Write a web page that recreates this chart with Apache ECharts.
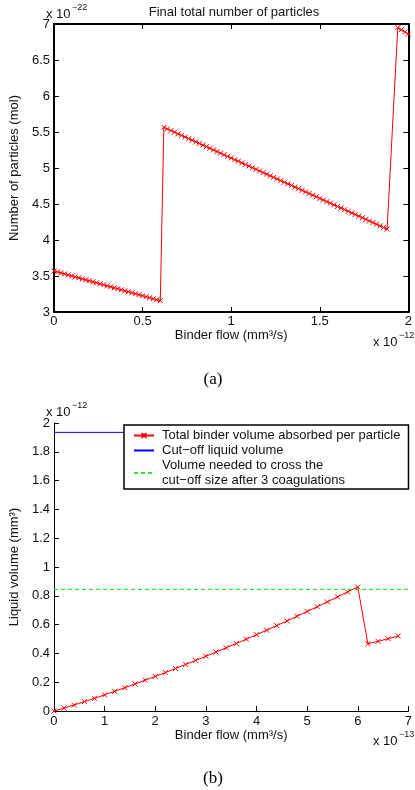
<!DOCTYPE html>
<html>
<head>
<meta charset="utf-8">
<script src="https://cdn.jsdelivr.net/npm/echarts@6/dist/echarts.min.js"></script>
<style>
  html, body { margin: 0; padding: 0; background: #fff; }
  #chart { width: 415px; height: 790px; }
</style>
</head>
<body>
<div id="chart"></div>
<script>
// (a) Final total number of particles vs binder flow
// x in units of 1e-12 mm^3/s, y in units of 1e-22 mol
const flowA = [
  0.00, 0.02, 0.04, 0.06, 0.08, 0.10, 0.12, 0.14, 0.16, 0.18,
  0.20, 0.22, 0.24, 0.26, 0.28, 0.30, 0.32, 0.34, 0.36, 0.38,
  0.40, 0.42, 0.44, 0.46, 0.48, 0.50, 0.52, 0.54, 0.56, 0.58, 0.60,
  0.62, 0.64, 0.66, 0.68, 0.70, 0.72, 0.74, 0.76, 0.78, 0.80,
  0.82, 0.84, 0.86, 0.88, 0.90, 0.92, 0.94, 0.96, 0.98, 1.00,
  1.02, 1.04, 1.06, 1.08, 1.10, 1.12, 1.14, 1.16, 1.18, 1.20,
  1.22, 1.24, 1.26, 1.28, 1.30, 1.32, 1.34, 1.36, 1.38, 1.40,
  1.42, 1.44, 1.46, 1.48, 1.50, 1.52, 1.54, 1.56, 1.58, 1.60,
  1.62, 1.64, 1.66, 1.68, 1.70, 1.72, 1.74, 1.76, 1.78, 1.80,
  1.82, 1.84, 1.86, 1.88,
  1.94, 1.96, 1.98, 2.00
];
const particlesA = [
  3.570, 3.556, 3.543, 3.529, 3.515, 3.501, 3.487, 3.474, 3.460, 3.446,
  3.433, 3.419, 3.405, 3.392, 3.378, 3.364, 3.350, 3.336, 3.323, 3.309,
  3.295, 3.282, 3.268, 3.254, 3.240, 3.226, 3.213, 3.199, 3.185, 3.171, 3.157,
  5.565, 5.543, 5.520, 5.498, 5.475, 5.453, 5.430, 5.408, 5.386, 5.363,
  5.341, 5.318, 5.296, 5.273, 5.251, 5.229, 5.206, 5.184, 5.161, 5.139,
  5.116, 5.094, 5.072, 5.049, 5.027, 5.004, 4.982, 4.959, 4.937, 4.915,
  4.892, 4.870, 4.847, 4.825, 4.802, 4.780, 4.758, 4.735, 4.713, 4.690,
  4.668, 4.645, 4.623, 4.601, 4.578, 4.556, 4.533, 4.511, 4.488, 4.466,
  4.444, 4.421, 4.399, 4.376, 4.354, 4.331, 4.309, 4.287, 4.264, 4.242,
  4.219, 4.197, 4.174, 4.152,
  6.950, 6.920, 6.890, 6.860
];

// (b) Liquid volume vs binder flow
// x in units of 1e-13 mm^3/s, y in units of 1e-12 mm^3
const flowB = [
  0.0, 0.2, 0.4, 0.6, 0.8, 1.0, 1.2, 1.4, 1.6, 1.8,
  2.0, 2.2, 2.4, 2.6, 2.8, 3.0, 3.2, 3.4, 3.6, 3.8,
  4.0, 4.2, 4.4, 4.6, 4.8, 5.0, 5.2, 5.4, 5.6, 5.8,
  6.0, 6.2, 6.4, 6.6, 6.8
];
const binderVolume = [
  0.000, 0.020, 0.042, 0.065, 0.088, 0.112, 0.137, 0.162, 0.188, 0.214,
  0.240, 0.267, 0.295, 0.323, 0.351, 0.380, 0.409, 0.439, 0.469, 0.499,
  0.530, 0.561, 0.593, 0.625, 0.658, 0.691, 0.724, 0.758, 0.792, 0.827,
  0.861, 0.467, 0.484, 0.502, 0.521
];
const lineSpanB = [0, 7];
const cutoffVolume = 1.935;
const neededVolume = 0.845;

const legendNames = [
  'Total binder volume absorbed per particle',
  'Cut\u2212off liquid volume',
  'Volume needed to cross the\ncut\u2212off size after 3 coagulations'
];

const FONT = '"Liberation Sans", Arial, Helvetica, sans-serif';
const SERIF = '"Liberation Serif", "Times New Roman", serif';
const TXT = '#111';
const FS = 13;
const crossSymbol = 'path://M0,0L10,10M10,0L0,10';
const RED = '#ff0000', BLUE = '#0000ff', GREEN = '#22ee22';

function pairs(xs, ys) {
  return xs.map((x, i) => [x, ys[i]]);
}

const labelStyle = { color: TXT, fontSize: FS, fontFamily: FONT };

function axisBase(extra) {
  return Object.assign({
    type: 'value',
    splitLine: { show: false },
    axisLine: { show: true, onZero: false, lineStyle: { color: '#000', width: 1 } },
    axisTick: { show: true, inside: true, length: 5, lineStyle: { color: '#000', width: 1 } },
    axisLabel: Object.assign({ margin: 4 }, labelStyle),
    nameTextStyle: labelStyle
  }, extra);
}

const chart = echarts.init(document.getElementById('chart'), null, { renderer: 'canvas' });

const boldLine = { show: true, onZero: false, lineStyle: { color: '#000', width: 2 } };

const option = {
  animation: false,
  backgroundColor: '#fff',
  textStyle: { fontFamily: FONT },
  grid: [
    { left: 46, top: 24, width: 366, height: 288 },
    { left: 46, top: 423, width: 366, height: 288 }
  ],
  xAxis: [
    axisBase({ gridIndex: 0, min: 0, max: 2, interval: 0.5, axisLine: boldLine,
      name: 'Binder flow (mm\u00b3/s)', nameLocation: 'middle', nameGap: 17,
      axisLabel: Object.assign({ margin: 3 }, labelStyle) }),
    axisBase({ gridIndex: 0, min: 0, max: 2, interval: 0.5, position: 'top', axisLine: boldLine,
      axisLabel: { show: false } }),
    axisBase({ gridIndex: 1, min: 0, max: 7, interval: 1,
      name: 'Binder flow (mm\u00b3/s)', nameLocation: 'middle', nameGap: 18,
      axisLabel: Object.assign({ margin: 4 }, labelStyle) })
  ],
  yAxis: [
    axisBase({ gridIndex: 0, min: 3, max: 7, interval: 0.5, axisLine: boldLine,
      name: 'Number of particles (mol)', nameLocation: 'middle', nameGap: 32 }),
    axisBase({ gridIndex: 0, min: 3, max: 7, interval: 0.5, position: 'right', axisLine: boldLine,
      axisLabel: { show: false } }),
    axisBase({ gridIndex: 1, min: 0, max: 2, interval: 0.2,
      name: 'Liquid volume (mm\u00b3)', nameLocation: 'middle', nameGap: 32 })
  ],
  legend: {
    show: true,
    orient: 'vertical',
    left: 124,
    top: 425,
    padding: [3, 8, 1, 9],
    itemGap: 0,
    itemWidth: 20,
    itemHeight: 6,
    backgroundColor: '#fff',
    borderColor: '#000',
    borderWidth: 1.5,
    borderRadius: 0,
    selectedMode: false,
    textStyle: { color: TXT, fontSize: FS, fontFamily: FONT, lineHeight: 15, padding: [0, 0, 0, 3] },
    data: [
      { name: legendNames[0] },
      { name: legendNames[1], itemStyle: { opacity: 0 } },
      { name: legendNames[2], itemStyle: { opacity: 0 } }
    ]
  },
  title: [
    { text: 'Final total number of particles', left: 229, top: 1, textAlign: 'center',
      textStyle: { color: TXT, fontSize: FS, fontWeight: 'normal', fontFamily: FONT } },
    { text: '(a)', left: 208, top: 366, textAlign: 'center',
      textStyle: { color: '#000', fontSize: 17, fontWeight: 'normal', fontFamily: SERIF } },
    { text: '(b)', left: 208, top: 765, textAlign: 'center',
      textStyle: { color: '#000', fontSize: 17, fontWeight: 'normal', fontFamily: SERIF } }
  ],
  graphic: [
    // axis scale exponents
    { type: 'text', left: 46, top: 8, style: { text: 'x 10', fill: TXT, font: FS + 'px ' + FONT } },
    { type: 'text', left: 72, top: 3, style: { text: '\u221222', fill: TXT, font: '9px ' + FONT } },
    { type: 'text', left: 373, top: 336, style: { text: 'x 10', fill: TXT, font: FS + 'px ' + FONT } },
    { type: 'text', left: 399, top: 331, style: { text: '\u221212', fill: TXT, font: '9px ' + FONT } },
    { type: 'text', left: 46, top: 406, style: { text: 'x 10', fill: TXT, font: FS + 'px ' + FONT } },
    { type: 'text', left: 72, top: 401, style: { text: '\u221212', fill: TXT, font: '9px ' + FONT } },
    { type: 'text', left: 373, top: 735, style: { text: 'x 10', fill: TXT, font: FS + 'px ' + FONT } },
    { type: 'text', left: 399, top: 730, style: { text: '\u221213', fill: TXT, font: '9px ' + FONT } }
  ],
  series: [
    {
      name: 'particles',
      type: 'line',
      xAxisIndex: 0, yAxisIndex: 0,
      data: pairs(flowA, particlesA),
      symbol: crossSymbol,
      symbolSize: 5,
      showSymbol: true,
      lineStyle: { color: RED, width: 1 },
      itemStyle: { color: RED, borderColor: RED, borderWidth: 1 },
      silent: true
    },
    {
      name: legendNames[0],
      type: 'line',
      xAxisIndex: 2, yAxisIndex: 2,
      data: pairs(flowB, binderVolume),
      symbol: crossSymbol,
      symbolSize: 5,
      lineStyle: { color: RED, width: 1 },
      itemStyle: { color: RED, borderColor: RED, borderWidth: 1 },
      silent: true
    },
    {
      name: legendNames[1],
      type: 'line',
      xAxisIndex: 2, yAxisIndex: 2,
      data: lineSpanB.map(x => [x, cutoffVolume]),
      symbol: 'none',
      lineStyle: { color: BLUE, width: 1 },
      itemStyle: { color: BLUE },
      silent: true
    },
    {
      name: legendNames[2],
      type: 'line',
      xAxisIndex: 2, yAxisIndex: 2,
      data: lineSpanB.map(x => [x, neededVolume]),
      symbol: 'none',
      lineStyle: { color: GREEN, width: 1.3, type: [4, 3] },
      itemStyle: { color: GREEN },
      silent: true
    }
  ]
};

chart.setOption(option);
</script>
</body>
</html>
